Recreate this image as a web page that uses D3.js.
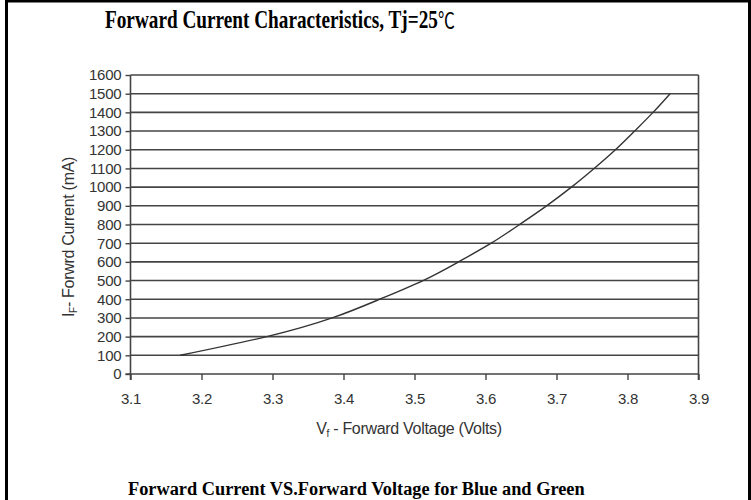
<!DOCTYPE html>
<html><head><meta charset="utf-8">
<script src="https://cdn.jsdelivr.net/npm/d3@7"></script>
<style>
html,body{margin:0;padding:0;background:#fff;}
svg{display:block;}
</style></head>
<body>
<script>
// Data
const voltage = [3.17, 3.292, 3.384, 3.451, 3.512, 3.562, 3.608, 3.648, 3.686, 3.721, 3.753, 3.783, 3.810, 3.836, 3.86];
const current = [100, 200, 300, 400, 500, 600, 700, 800, 900, 1000, 1100, 1200, 1300, 1400, 1500];
const xTicks = [3.1, 3.2, 3.3, 3.4, 3.5, 3.6, 3.7, 3.8, 3.9];
const yTicks = [0, 100, 200, 300, 400, 500, 600, 700, 800, 900, 1000, 1100, 1200, 1300, 1400, 1500, 1600];
const titleText = "Forward Current Characteristics, Tj=25";
const titleUnit = "\u2103";
const captionText = "Forward Current VS.Forward Voltage for Blue and Green";

const W = 751, H = 500;
const svg = d3.select("body").append("svg").attr("width", W).attr("height", H);

// outer frame
svg.append("line").attr("x1", 6.5).attr("x2", 6.5).attr("y1", 0).attr("y2", H).attr("stroke", "#000").attr("stroke-width", 3);
svg.append("line").attr("x1", 5).attr("x2", W).attr("y1", 1).attr("y2", 1).attr("stroke", "#000").attr("stroke-width", 3);
svg.append("line").attr("x1", 749.5).attr("x2", 749.5).attr("y1", 0).attr("y2", H).attr("stroke", "#000").attr("stroke-width", 3);

const x = d3.scaleLinear().domain([3.1, 3.9]).range([130.5, 698.5]);
const y = d3.scaleLinear().domain([0, 1600]).range([374, 75]);

const gridColor = "#444";
const sans = "'Liberation Sans', Arial, sans-serif";
// horizontal gridlines
svg.append("g").selectAll("line").data(yTicks.filter(d => d > 0)).join("line")
  .attr("x1", x(3.1)).attr("x2", x(3.9))
  .attr("y1", d => y(d)).attr("y2", d => y(d))
  .attr("stroke", gridColor).attr("stroke-width", 1.6);

// right border of plot
svg.append("line").attr("x1", x(3.9)).attr("x2", x(3.9)).attr("y1", y(1600)).attr("y2", y(0) + 6)
  .attr("stroke", gridColor).attr("stroke-width", 1.6);

// axes
const yAxis = d3.axisLeft(y).tickValues(yTicks).tickSize(5).tickPadding(4).tickFormat(d3.format("d"));
const gy = svg.append("g").attr("transform", `translate(${x(3.1)},0)`).call(yAxis);
const xAxis = d3.axisBottom(x).tickValues(xTicks).tickSize(6).tickPadding(13).tickFormat(d3.format(".1f"));
const gx = svg.append("g").attr("transform", `translate(0,${y(0)})`).call(xAxis);

[gx, gy].forEach(g => {
  g.select(".domain").attr("stroke", gridColor).attr("stroke-width", 1.6);
  g.selectAll(".tick line").attr("stroke", gridColor).attr("stroke-width", 1.4);
  g.selectAll("text").attr("font-family", sans)
    .attr("font-size", 15).attr("fill", "#333").attr("letter-spacing", -0.2);
});
gy.select(".domain").attr("d", `M0,${y(1600)}V${y(0) + 6}`);
gx.select(".domain").attr("d", `M${x(3.1) - 5},0H${x(3.9)}`);

// curve
const pts = voltage.map((v, i) => [v, current[i]]);
const line = d3.line().x(d => x(d[0])).y(d => y(d[1])).curve(d3.curveNatural);
svg.append("path").datum(pts).attr("d", line).attr("fill", "none")
  .attr("stroke", "#333").attr("stroke-width", 1.4);

// axis labels
const xl = svg.append("text").attr("x", 409).attr("y", 434).attr("text-anchor", "middle")
  .attr("font-family", sans).attr("font-size", 16).attr("fill", "#333")
  .attr("letter-spacing", -0.3);
xl.append("tspan").text("V");
xl.append("tspan").text("f").attr("font-size", 10).attr("dy", 3);
xl.append("tspan").text(" - Forward Voltage (Volts)").attr("dy", -3);

const yl = svg.append("text").attr("transform", "translate(74,237) rotate(-90)").attr("text-anchor", "middle")
  .attr("font-family", sans).attr("font-size", 16).attr("fill", "#333")
  .attr("letter-spacing", -0.3);
yl.append("tspan").text("I");
yl.append("tspan").text("F").attr("font-size", 10).attr("dy", 3);
yl.append("tspan").text("- Forwrd Current (mA)").attr("dy", -3);

// title: condensed horizontally to the reference width via a scale transform
const tg = svg.append("g");
const tt = tg.append("text").attr("x", 0).attr("y", 0)
  .attr("font-family", "'Liberation Serif', 'Times New Roman', serif").attr("font-weight", "bold")
  .attr("font-size", 25).attr("fill", "#000");
tt.append("tspan").text(titleText);
tt.append("tspan").text(titleUnit).attr("font-family", "'Noto Sans CJK SC', sans-serif")
  .attr("font-weight", "normal").attr("font-size", 22);
const tw = tt.node().getComputedTextLength();
tg.attr("transform", `translate(105,28) scale(${350 / tw},1)`);

const cg = svg.append("g");
const ct = cg.append("text").attr("x", 0).attr("y", 0).text(captionText)
  .attr("font-family", "'Liberation Serif', 'Times New Roman', serif").attr("font-weight", "bold")
  .attr("font-size", 19).attr("fill", "#000");
const cw = ct.node().getComputedTextLength();
cg.attr("transform", `translate(128,495) scale(${457 / cw},1)`);
</script>
</body></html>
